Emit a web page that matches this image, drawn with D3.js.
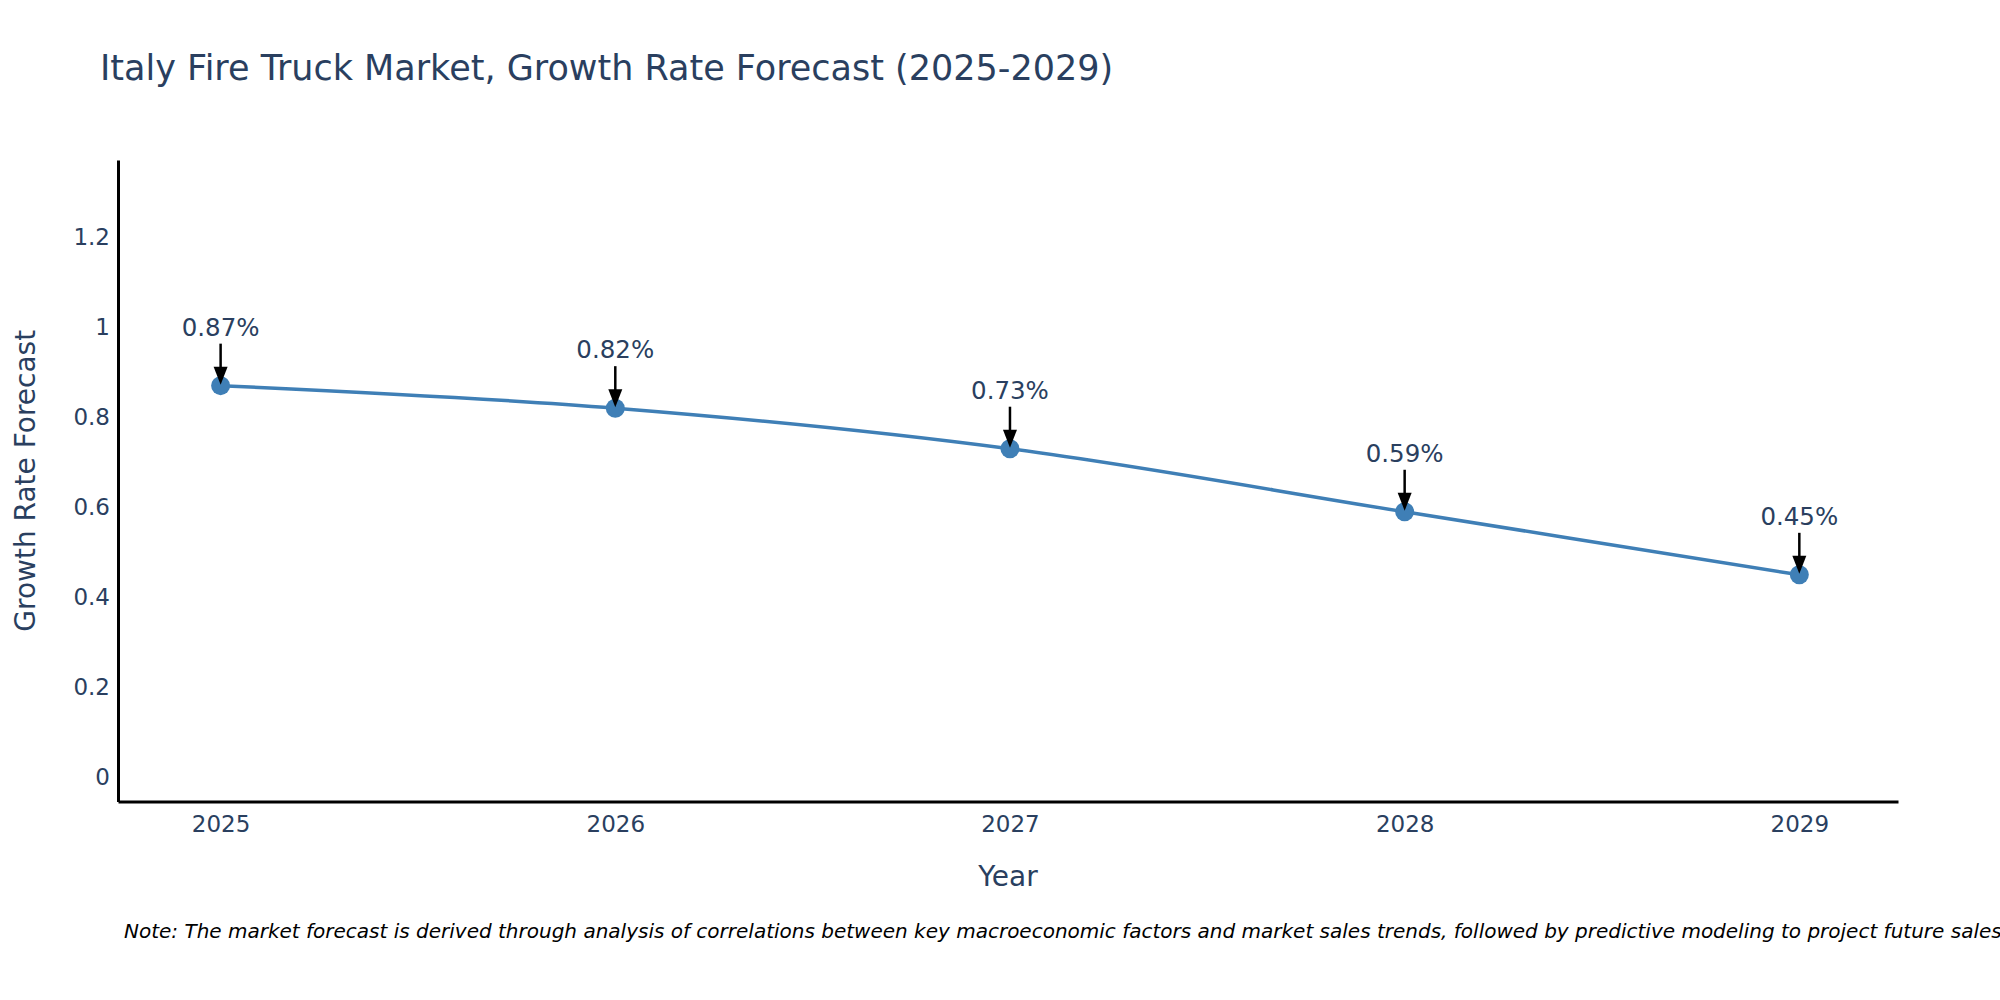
<!DOCTYPE html>
<html>
<head>
<meta charset="utf-8">
<script src="https://cdn.jsdelivr.net/npm/d3@7"></script>
<style>
  body { margin: 0; background: #fff; }
  text { font-family: "DejaVu Sans", Verdana, sans-serif; }
</style>
</head>
<body>
<svg id="chart"></svg>
<script>
const years = [2025, 2026, 2027, 2028, 2029];
const growth = [0.87, 0.82, 0.73, 0.59, 0.45];
const labels = ["0.87%", "0.82%", "0.73%", "0.59%", "0.45%"];
const yTicks = [0, 0.2, 0.4, 0.6, 0.8, 1, 1.2];

const width = 2000;
const height = 1000;
const margin = { top: 160, right: 102, bottom: 198.5, left: 118 };
const textColor = "#2a3f5f";
const lineColor = "#3f7fb6";

const data = years.map((y, i) => ({ year: y, value: growth[i], label: labels[i] }));

const svg = d3.select("#chart").attr("width", width).attr("height", height);

const x = d3
  .scaleLinear()
  .domain([2024.74, 2029.25])
  .range([margin.left, width - margin.right]);

const y = d3
  .scaleLinear()
  .domain([-0.0533, 1.371])
  .range([height - margin.bottom, margin.top]);

// Title
svg
  .append("text")
  .attr("x", 100)
  .attr("y", 80)
  .style("font-size", "35px")
  .style("fill", textColor)
  .text("Italy Fire Truck Market, Growth Rate Forecast (2025-2029)");

// Axes
const xAxis = d3.axisBottom(x).tickValues(years).tickFormat(d3.format("d")).tickSize(0).tickPadding(14);
const gx = svg
  .append("g")
  .attr("transform", `translate(0,${height - margin.bottom})`)
  .call(xAxis);
gx.select(".domain").attr("stroke", "#000").attr("stroke-width", 3);
gx.selectAll("text").style("font-size", "23px").style("fill", textColor);

const yAxis = d3.axisLeft(y).tickValues(yTicks).tickFormat((d) => d3.format("~g")(d)).tickSize(0).tickPadding(8);
const gy = svg
  .append("g")
  .attr("transform", `translate(${margin.left},0)`)
  .call(yAxis);
gy.select(".domain").attr("stroke", "#000").attr("stroke-width", 3);
gy.selectAll("text").style("font-size", "23px").style("fill", textColor);

// Axis titles
svg
  .append("text")
  .attr("x", (margin.left + width - margin.right) / 2)
  .attr("y", 886)
  .attr("text-anchor", "middle")
  .style("font-size", "28px")
  .style("fill", textColor)
  .text("Year");

svg
  .append("text")
  .attr("transform", `translate(35,${(margin.top + height - margin.bottom) / 2}) rotate(-90)`)
  .attr("text-anchor", "middle")
  .style("font-size", "28px")
  .style("fill", textColor)
  .text("Growth Rate Forecast");

// Line
const line = d3
  .line()
  .x((d) => x(d.year))
  .y((d) => y(d.value))
  .curve(d3.curveCatmullRom.alpha(0.5));

svg
  .append("path")
  .datum(data)
  .attr("d", line)
  .attr("fill", "none")
  .attr("stroke", lineColor)
  .attr("stroke-width", 3.5);

svg
  .selectAll(".dot")
  .data(data)
  .enter()
  .append("circle")
  .attr("class", "dot")
  .attr("cx", (d) => x(d.year))
  .attr("cy", (d) => y(d.value))
  .attr("r", 9.5)
  .attr("fill", lineColor);

// Annotations with arrows
const ann = svg.selectAll(".ann").data(data).enter().append("g").attr("class", "ann");

ann
  .append("line")
  .attr("x1", (d) => x(d.year))
  .attr("x2", (d) => x(d.year))
  .attr("y1", (d) => y(d.value) - 42)
  .attr("y2", (d) => y(d.value) - 14)
  .attr("stroke", "#000")
  .attr("stroke-width", 2.5);

ann
  .append("path")
  .attr("d", (d) => {
    const cx = x(d.year);
    const cy = y(d.value);
    return `M${cx - 7},${cy - 19} L${cx + 7},${cy - 19} L${cx},${cy - 1} Z`;
  })
  .attr("fill", "#000");

ann
  .append("text")
  .attr("x", (d) => x(d.year))
  .attr("y", (d) => y(d.value) - 50)
  .attr("text-anchor", "middle")
  .style("font-size", "24.5px")
  .style("fill", textColor)
  .text((d) => d.label);

// Note
svg
  .append("text")
  .attr("x", 124)
  .attr("y", 938)
  .style("font-size", "20px")
  .style("font-style", "italic")
  .style("fill", "#000")
  .text("Note: The market forecast is derived through analysis of correlations between key macroeconomic factors and market sales trends, followed by predictive modeling to project future sales.");
</script>
</body>
</html>
